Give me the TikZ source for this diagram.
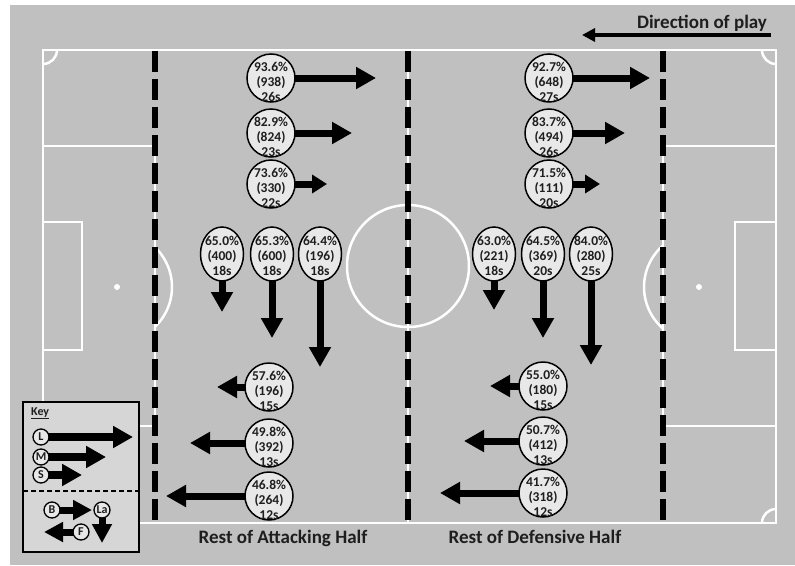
\documentclass[tikz,border=0pt]{standalone}
\usepackage{fontspec}
\setmainfont{Carlito}
\usetikzlibrary{arrows.meta,shapes.geometric}
\pgfdeclarelayer{bg}
\pgfdeclarelayer{mid}
\pgfsetlayers{bg,mid,main}
\definecolor{pitchgrey}{RGB}{192,192,192}
\definecolor{bubfill}{RGB}{232,232,232}
\definecolor{keyfill}{RGB}{214,214,214}
\definecolor{txtcol}{RGB}{30,30,30}
\begin{document}
\begin{tikzpicture}[x=1pt,y=-1pt,
  pline/.style={white,line width=2.5pt},
  zoneline/.style={black,line width=6pt,dash pattern=on 21pt off 7pt},
  bub/.style={ellipse,draw=black,line width=1.5pt,fill=bubfill,minimum width=48pt,minimum height=48pt,inner sep=0pt},
  tallbub/.style={bub,minimum width=43pt,minimum height=54pt},
  btxt/.style={font=\bfseries\fontsize{13.5}{15}\selectfont,align=center,inner sep=0pt,text=txtcol},
  barrow/.style={line width=7pt,shorten <=-3pt,-{Triangle[length=20pt,width=21pt]}},
  sarrow/.style={line width=7pt,shorten <=-3pt,-{Triangle[length=15pt,width=18pt]}},
  kcirc/.style={circle,draw=black,line width=1.3pt,fill=bubfill,minimum size=16pt,inner sep=0pt,font=\bfseries\fontsize{12}{12}\selectfont,text=txtcol},
  karrow/.style={line width=8pt,shorten <=-3pt,-{Triangle[length=20pt,width=21pt]}},
  kkarrow/.style={line width=7pt,shorten <=-3pt,-{Triangle[length=19pt,width=19pt]}},
  bigtxt/.style={font=\bfseries\fontsize{19}{22}\selectfont,text=txtcol,inner sep=0pt}
]
\useasboundingbox (0,0) rectangle (795,565);
\begin{pgfonlayer}{bg}
\fill[white] (0,0) rectangle (795,565);
\fill[pitchgrey] (10,5) rectangle (795,565);
% pitch
\draw[pline] (43,50) rectangle (776,523);
\draw[pline] (408,50) -- (408,523);
\draw[pline] (408,266) circle[radius=61];
\draw[pline] (43,146) rectangle (155,426);
\draw[pline] (776,146) rectangle (663,426);
\draw[pline] (43,222) rectangle (82,350);
\draw[pline] (776,222) rectangle (735,350);
\fill[white] (117,287) circle[radius=3];
\fill[white] (699,287) circle[radius=3];
\draw[pline] (117,287) ++(-46.3:55) arc[start angle=-46.3,end angle=46.3,radius=55];
\draw[pline] (699,287) ++(130.9:55) arc[start angle=130.9,end angle=229.1,radius=55];
\draw[pline] (57,50) arc[start angle=0,end angle=90,radius=14];
\draw[pline] (776,64) arc[start angle=90,end angle=180,radius=14];
\draw[pline] (762,523) arc[start angle=180,end angle=270,radius=14];
\draw[pline] (43,509) arc[start angle=270,end angle=360,radius=14];
% zone lines
\draw[zoneline] (155,51) -- (155,523);
\draw[zoneline] (408,51) -- (408,523);
\draw[zoneline] (663,51) -- (663,523);
\end{pgfonlayer}

% direction of play
\node[bigtxt,anchor=base] (dir) at (702,28) {Direction of play};
\coordinate (dirA) at (771,35);
\coordinate (dirB) at (582,35);
\draw[line width=4.5pt,-{Triangle[length=13pt,width=13pt]}] (dirA) -- (dirB);

% bottom labels
\node[bigtxt,anchor=base] (att) at (283,543) {Rest of Attacking Half};
\node[bigtxt,anchor=base] (def) at (535,543) {Rest of Defensive Half};

% bubbles: left half
\node[bub] (L1) at (271,78) {};
\node[btxt] (L1t) at ([yshift=-4pt]L1.center) {93.6\%\\(938)\\26s};
\node[bub] (L2) at (271,133) {};
\node[btxt] (L2t) at ([yshift=-4pt]L2.center) {82.9\%\\(824)\\23s};
\node[bub] (L3) at (271,184) {};
\node[btxt] (L3t) at ([yshift=-4pt]L3.center) {73.6\%\\(330)\\22s};
\node[tallbub] (M1) at (222,254) {};
\node[btxt] (M1t) at ([yshift=-2pt]M1.center) {65.0\%\\(400)\\18s};
\node[tallbub] (M2) at (272,254) {};
\node[btxt] (M2t) at ([yshift=-2pt]M2.center) {65.3\%\\(600)\\18s};
\node[tallbub] (M3) at (320,254) {};
\node[btxt] (M3t) at ([yshift=-2pt]M3.center) {64.4\%\\(196)\\18s};
\node[bub] (B1) at (269,387) {};
\node[btxt] (B1t) at ([yshift=-4pt]B1.center) {57.6\%\\(196)\\15s};
\node[bub] (B2) at (269,443) {};
\node[btxt] (B2t) at ([yshift=-4pt]B2.center) {49.8\%\\(392)\\13s};
\node[bub] (B3) at (269,496) {};
\node[btxt] (B3t) at ([yshift=-4pt]B3.center) {46.8\%\\(264)\\12s};
% bubbles: right half
\node[bub] (R1) at (549,78) {};
\node[btxt] (R1t) at ([yshift=-4pt]R1.center) {92.7\%\\(648)\\27s};
\node[bub] (R2) at (549,133) {};
\node[btxt] (R2t) at ([yshift=-4pt]R2.center) {83.7\%\\(494)\\26s};
\node[bub] (R3) at (549,184) {};
\node[btxt] (R3t) at ([yshift=-4pt]R3.center) {71.5\%\\(111)\\20s};
\node[tallbub] (N1) at (494,254) {};
\node[btxt] (N1t) at ([yshift=-2pt]N1.center) {63.0\%\\(221)\\18s};
\node[tallbub] (N2) at (543,254) {};
\node[btxt] (N2t) at ([yshift=-2pt]N2.center) {64.5\%\\(369)\\20s};
\node[tallbub] (N3) at (591,254) {};
\node[btxt] (N3t) at ([yshift=-2pt]N3.center) {84.0\%\\(280)\\25s};
\node[bub] (C1) at (543,386) {};
\node[btxt] (C1t) at ([yshift=-4pt]C1.center) {55.0\%\\(180)\\15s};
\node[bub] (C2) at (543,441) {};
\node[btxt] (C2t) at ([yshift=-4pt]C2.center) {50.7\%\\(412)\\13s};
\node[bub] (C3) at (543,493) {};
\node[btxt] (C3t) at ([yshift=-4pt]C3.center) {41.7\%\\(318)\\12s};

% arrow tips
\coordinate (L1a) at (376,78);
\coordinate (L2a) at (352,133);
\coordinate (L3a) at (327,184);
\coordinate (M1a) at (222,312);
\coordinate (M2a) at (272,338);
\coordinate (M3a) at (320,367);
\coordinate (B1a) at (217,387);
\coordinate (B2a) at (190,443);
\coordinate (B3a) at (166,496);
\coordinate (R1a) at (650,78);
\coordinate (R2a) at (625,133);
\coordinate (R3a) at (600,184);
\coordinate (N1a) at (494,310);
\coordinate (N2a) at (543,338);
\coordinate (N3a) at (591,365);
\coordinate (C1a) at (490,386);
\coordinate (C2a) at (464,441);
\coordinate (C3a) at (440,493);

% key
\node[kcirc] (kL) at (41,437) {L};
\node[kcirc] (kM) at (41,457) {M};
\node[kcirc] (kS) at (41,475) {S};
\node[kcirc] (kB) at (52,510) {B};
\node[kcirc] (kLa) at (102,510) {La};
\node[kcirc] (kF) at (81,532) {F};
\node[font=\bfseries\fontsize{12}{14}\selectfont,text=txtcol,anchor=base west,inner sep=0pt] (keyt) at (31,415) {\underline{Key}};
\coordinate (kLa2) at (133,437);
\coordinate (kMa) at (106,457);
\coordinate (kSa) at (82,475);
\coordinate (kBa) at (92,510);
\coordinate (kLaa) at (102,543);
\coordinate (kFa) at (44,532);

\begin{pgfonlayer}{mid}
\draw[barrow] (L1) -- (L1a);
\draw[barrow] (L2) -- (L2a);
\draw[sarrow] (L3) -- (L3a);
\draw[barrow] (M1) -- (M1a);
\draw[barrow] (M2) -- (M2a);
\draw[barrow] (M3) -- (M3a);
\draw[barrow] (B1) -- (B1a);
\draw[barrow] (B2) -- (B2a);
\draw[barrow] (B3) -- (B3a);
\draw[barrow] (R1) -- (R1a);
\draw[barrow] (R2) -- (R2a);
\draw[sarrow] (R3) -- (R3a);
\draw[barrow] (N1) -- (N1a);
\draw[barrow] (N2) -- (N2a);
\draw[barrow] (N3) -- (N3a);
\draw[barrow] (C1) -- (C1a);
\draw[barrow] (C2) -- (C2a);
\draw[barrow] (C3) -- (C3a);
% key box
\draw[black,line width=2.5pt,fill=keyfill] (23,402) rectangle (139,552);
\draw[black,line width=1.5pt,dash pattern=on 5pt off 3pt] (23,491) -- (139,491);
\draw[karrow] (kL) -- (kLa2);
\draw[karrow] (kM) -- (kMa);
\draw[karrow] (kS) -- (kSa);
\draw[kkarrow] (kB) -- (kBa);
\draw[kkarrow] (kLa) -- (kLaa);
\draw[kkarrow] (kF) -- (kFa);
\end{pgfonlayer}
\end{tikzpicture}
\end{document}
